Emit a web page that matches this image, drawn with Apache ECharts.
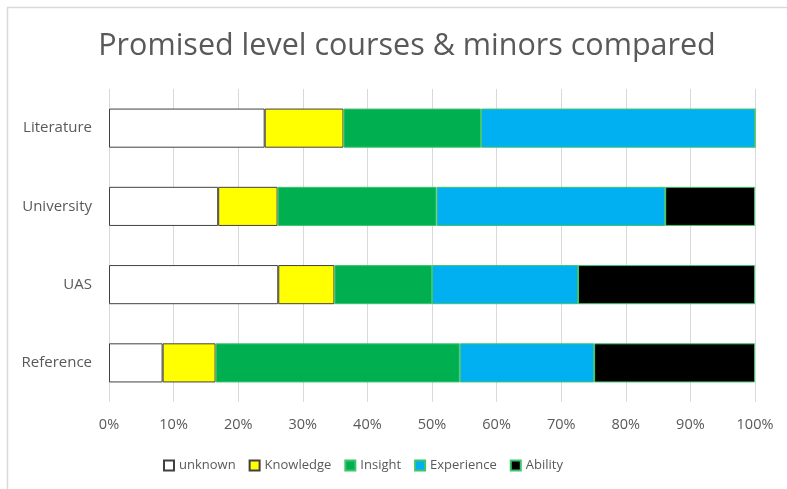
<!DOCTYPE html>
<html>
<head>
<meta charset="utf-8">
<script src="https://cdn.jsdelivr.net/npm/echarts@6/dist/echarts.min.js"></script>
<style>
html, body { margin: 0; padding: 0; background: #fff; }
#chart { width: 787px; height: 489px; }
</style>
</head>
<body>
<div id="chart"></div>
<script>
// categories top to bottom
var categories = ['Literature', 'University', 'UAS', 'Reference'];
var levels = ['unknown', 'Knowledge', 'Insight', 'Experience', 'Ability'];
// share per level, in %
var unknown    = [24.1, 16.9, 26.2, 8.3];
var knowledge  = [12.2, 9.2, 8.7, 8.2];
var insight    = [21.3, 24.6, 15.1, 37.8];
var experience = [42.4, 35.4, 22.6, 20.8];
var ability    = [0, 13.9, 27.4, 24.9];
var ticks = [0, 10, 20, 30, 40, 50, 60, 70, 80, 90, 100];

var fills = ['#ffffff', '#ffff00', '#00b050', '#00b0f0', '#000000'];
var borders = ['#404040', '#404040', '#3ec46d', '#3ec46d', '#3ec46d'];
var values = [unknown, knowledge, insight, experience, ability];

var txt = '#595959';
var font = 'Open Sans';

var series = levels.map(function (name, i) {
    return {
        name: name,
        type: 'bar',
        stack: 'all',
        barWidth: '50%',
        data: values[i],
        itemStyle: { color: fills[i], borderColor: borders[i], borderWidth: 1 }
    };
});

var myChart = echarts.init(document.getElementById('chart'));
myChart.setOption({
    animation: false,
    backgroundColor: '#fff',
    title: {
        text: 'Promised level courses & minors compared',
        left: 402,
        textAlign: 'center',
        top: 26,
        textStyle: { color: txt, fontFamily: font, fontSize: 30.5, fontWeight: 'normal' }
    },
    graphic: [{
        type: 'rect',
        shape: { x: 7.5, y: 7.5, width: 900, height: 900 },
        style: { fill: 'none', stroke: '#d9d9d9', lineWidth: 1.5 },
        silent: true
    }],
    legend: {
        data: levels,
        left: 158,
        top: 454,
        itemWidth: 10,
        itemHeight: 10,
        itemGap: 13,
        icon: 'rect',
        textStyle: { color: txt, fontFamily: font, fontSize: 13 }
    },
    grid: { left: 109, right: 32, top: 89, bottom: 87 },
    xAxis: {
        type: 'value',
        min: ticks[0],
        max: ticks[ticks.length - 1],
        interval: ticks[1] - ticks[0],
        axisLine: { show: false },
        axisTick: { show: false },
        axisLabel: { formatter: '{value}%', color: txt, fontFamily: font, fontSize: 14.5, margin: 15 },
        splitLine: { lineStyle: { color: '#d9d9d9', width: 1 } }
    },
    yAxis: {
        type: 'category',
        data: categories,
        inverse: true,
        axisLine: { show: false },
        axisTick: { show: false },
        axisLabel: { color: txt, fontFamily: font, fontSize: 15, margin: 17 }
    },
    series: series
});
</script>
</body>
</html>
